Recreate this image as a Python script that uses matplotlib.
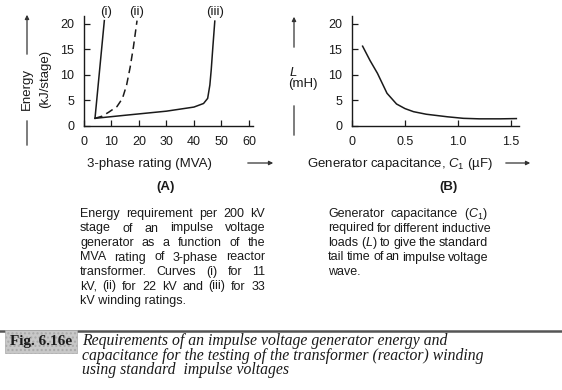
import matplotlib
matplotlib.use("Agg")
import matplotlib.pyplot as plt
from matplotlib.patches import FancyArrowPatch

plt.rcParams['font.family'] = ['Liberation Sans', 'DejaVu Sans']
plt.rcParams['mathtext.fontset'] = 'custom'
plt.rcParams['mathtext.rm'] = 'Liberation Sans'
plt.rcParams['mathtext.it'] = 'Liberation Sans:italic'

# panel A: energy vs 3-phase rating (MVA)
mva_i = [4.0, 7.4]
energy_i = [1.5, 20.6]
mva_ii = [4.0, 6.5, 9.0, 12.0, 14.0, 15.5, 16.8, 18.0, 19.3]
energy_ii = [1.5, 1.9, 2.7, 3.8, 5.4, 8.0, 11.5, 15.5, 20.6]
mva_iii = [4.0, 15.0, 30.0, 40.0, 43.5, 45.0, 45.8, 46.3, 46.9, 47.6]
energy_iii = [1.5, 2.1, 2.9, 3.7, 4.4, 5.4, 8.0, 11.0, 15.5, 20.5]
curve_labels = ['(i)', '(ii)', '(iii)']
curve_label_x = [8.0, 19.3, 47.6]

# panel B: inductance vs generator capacitance
cap_uF = [0.10, 0.17, 0.24, 0.33, 0.42, 0.50, 0.58, 0.70, 0.90, 1.05, 1.20, 1.40, 1.55]
ind_mH = [15.6, 12.8, 10.3, 6.4, 4.3, 3.4, 2.8, 2.3, 1.8, 1.5, 1.4, 1.4, 1.45]

xticks_a = [0, 10, 20, 30, 40, 50, 60]
xticks_b = [0, 0.5, 1.0, 1.5]
xticklabels_b = ['0', '0.5', '1.0', '1.5']
yticks = [0, 5, 10, 15, 20]

W, H = 562, 390
fig = plt.figure(figsize=(W / 100, H / 100), dpi=100)


def fx(x):
    return x / W


def fy(y):
    return 1 - y / H


ink = '#1a1a1a'


def style(ax):
    for s in ['top', 'right']:
        ax.spines[s].set_visible(False)
    for s in ['left', 'bottom']:
        ax.spines[s].set_linewidth(1.0)
        ax.spines[s].set_color(ink)
    ax.tick_params(direction='in', length=4, width=0.9, pad=7, labelsize=9, colors=ink)
    ax.set_yticks(yticks)
    ax.set_ylim(0, 21.5)


axA = fig.add_axes([fx(84), fy(126), 169 / W, 110 / H])
style(axA)
axA.set_xlim(0, 61.5)
axA.set_xticks(xticks_a)
axA.plot(mva_i, energy_i, color=ink, lw=1.1)
axA.plot(mva_ii, energy_ii, color=ink, lw=1.1, dashes=(5, 3))
axA.plot(mva_iii, energy_iii, color=ink, lw=1.1)
for lab, xl in zip(curve_labels, curve_label_x):
    axA.text(xl, 22.3, lab, ha='center', va='center', fontsize=9.5, color=ink, clip_on=False)

axB = fig.add_axes([fx(352), fy(126), 167 / W, 110 / H])
style(axB)
axB.set_xlim(0, 1.575)
axB.set_xticks(xticks_b)
axB.set_xticklabels(xticklabels_b)
axB.plot(cap_uF, ind_mH, color=ink, lw=1.1)


def vline(x, y0, y1, arrow=False):
    a = FancyArrowPatch((fx(x), fy(y0)), (fx(x), fy(y1)), transform=fig.transFigure,
                        arrowstyle='-|>' if arrow else '-', mutation_scale=6,
                        color='#333333', lw=0.9)
    fig.patches.append(a)


def hline(x0, x1, y):
    a = FancyArrowPatch((fx(x0), fy(y)), (fx(x1), fy(y)), transform=fig.transFigure,
                        arrowstyle='-|>', mutation_scale=6, color='#333333', lw=0.9)
    fig.patches.append(a)


# y labels with arrows
vline(27, 57, 12, arrow=True)
vline(27, 118, 148)
fig.text(fx(27), fy(89), 'Energy', rotation=90, ha='center', va='center', fontsize=9.5, color=ink)
fig.text(fx(45), fy(79), '(kJ/stage)', rotation=90, ha='center', va='center', fontsize=9.5, color=ink)

vline(294, 50, 14, arrow=True)
vline(294, 103, 138)
fig.text(fx(289), fy(72), '$L$', ha='left', va='center', fontsize=9.5, color=ink)
fig.text(fx(288), fy(84), '(mH)', ha='left', va='center', fontsize=9.5, color=ink)

# x labels
fig.text(fx(149), fy(166.5), '3-phase rating (MVA)', ha='center', va='baseline', fontsize=9.5, color=ink)
hline(245, 276, 163)
fig.text(fx(307), fy(166.5), 'Generator capacitance, $C_1$ (\u00b5F)', ha='left', va='baseline',
         fontsize=9.5, color=ink)
hline(503, 533, 163)

fig.text(fx(166), fy(187), '(A)', ha='center', va='center', fontsize=9.5, color=ink, weight='bold')
fig.text(fx(448), fy(187), '(B)', ha='center', va='center', fontsize=9.5, color=ink, weight='bold')

renderer = fig.canvas.get_renderer()


def paragraph(lines, x0, x1, base0, step, size=9.0):
    for i, line in enumerate(lines):
        y = fy(base0 + i * step)
        words = line.split(' ')
        if i == len(lines) - 1 or len(words) == 1:
            fig.text(fx(x0), y, line, ha='left', va='baseline', fontsize=size, color=ink)
            continue
        texts = [fig.text(0, y, w, ha='left', va='baseline', fontsize=size, color=ink) for w in words]
        widths = [t.get_window_extent(renderer).width for t in texts]
        gap = max((x1 - x0 - sum(widths)) / (len(words) - 1), 2.5)
        x = x0
        for t, w in zip(texts, widths):
            t.set_x(fx(x))
            x += w + gap


para_a = ['Energy requirement per 200 kV',
          'stage of an impulse voltage',
          'generator as a function of the',
          'MVA rating of 3-phase reactor',
          'transformer. Curves (i) for 11',
          'kV, (ii) for 22 kV and (iii) for 33',
          'kV winding ratings.']
para_b = ['Generator capacitance ($C_1$)',
          'required for different inductive',
          'loads ($L$) to give the standard',
          'tail time of an impulse voltage',
          'wave.']
paragraph(para_a, 80, 265, 217, 14.5)
paragraph(para_b, 328, 488, 217, 14.5)

# caption
fig.add_artist(plt.Line2D([0, 1], [fy(331), fy(331)], transform=fig.transFigure,
                          color='#555555', lw=1.8))
fig.text(fx(10), fy(345), 'Fig. 6.16e', ha='left', va='baseline', fontsize=11, weight='bold',
         family='Liberation Serif', color=ink,
         bbox=dict(boxstyle='square,pad=0.3', facecolor='#c8c8c8', edgecolor='#aaaaaa',
                   hatch='....', lw=0.5))
caption = ['Requirements of an impulse voltage generator energy and',
           'capacitance for the testing of the transformer (reactor) winding',
           'using standard  impulse voltages']
for i, c in enumerate(caption):
    fig.text(fx(82), fy(345 + i * 14.5), c, ha='left', va='baseline', fontsize=11.3,
             style='italic', family='Liberation Serif', color=ink)

fig.savefig('out.png', dpi=100)
